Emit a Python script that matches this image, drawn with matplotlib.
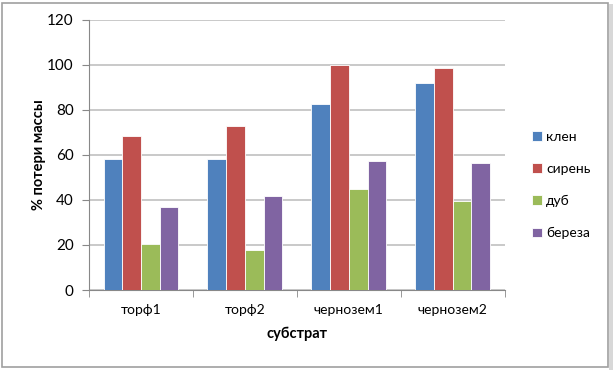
import numpy as np
import matplotlib.pyplot as plt
from matplotlib.patches import Rectangle

plt.rcParams['font.family'] = ['Lato', 'DejaVu Sans']

categories = ['торф1', 'торф2', 'чернозем1', 'чернозем2']
series = ['клен', 'сирень', 'дуб', 'береза']
klen = [58.1, 58.4, 82.7, 92.1]
siren = [68.3, 72.9, 100.0, 98.7]
dub = [20.4, 17.6, 44.9, 39.6]
bereza = [36.9, 41.6, 57.3, 56.3]
colors = ['#4F81BD', '#C0504D', '#9BBB59', '#8064A2']

values = [klen, siren, dub, bereza]

fig = plt.figure(figsize=(6.15, 3.7), dpi=100)
ax = fig.add_axes([0.1447, 0.2162, 0.676, 0.73])

x = np.arange(len(categories))
w = 0.18
for i, (name, vals) in enumerate(zip(series, values)):
    ax.bar(x + (i - 1.5) * w, vals, width=w, color=colors[i], label=name,
           edgecolor='white', linewidth=0.6, zorder=3)

ax.set_xlim(-0.5, len(categories) - 0.5)
ax.set_ylim(0, 120)
ax.set_yticks(range(0, 121, 20))
ax.yaxis.grid(True, color='#c0c0c0', linewidth=1.2, zorder=0)
ax.set_xticks(x)
ax.set_xticklabels(categories, fontsize=10)
ax.set_xticks(np.arange(-0.5, len(categories), 1), minor=True)
ax.tick_params(axis='x', which='major', length=0, pad=10)
ax.tick_params(axis='x', which='minor', length=5, color='#888888')
ax.tick_params(axis='y', length=5, color='#888888', labelsize=11, pad=6)

for s in ['top', 'right']:
    ax.spines[s].set_visible(False)
for s in ['left', 'bottom']:
    ax.spines[s].set_color('#888888')

ax.set_xlabel('субстрат', fontsize=10.5, fontweight='bold', labelpad=8)
ax.set_ylabel('% потери массы', fontsize=10.5, fontweight='bold', labelpad=1)

leg = fig.legend(loc='center left', bbox_to_anchor=(0.845, 0.5), frameon=False,
                 fontsize=10, handlelength=0.7, handleheight=0.7,
                 handletextpad=0.3, labelspacing=1.45)

fig.patches.append(Rectangle((0.003, 0.008), 0.985, 0.985, transform=fig.transFigure,
                             fill=False, edgecolor='#a0a0a0', linewidth=1.2))
fig.patches.append(Rectangle((0.991, 0.0), 0.006, 0.99, transform=fig.transFigure,
                             facecolor='#d8d8d8', edgecolor='none'))

fig.savefig('out.png', dpi=100)
